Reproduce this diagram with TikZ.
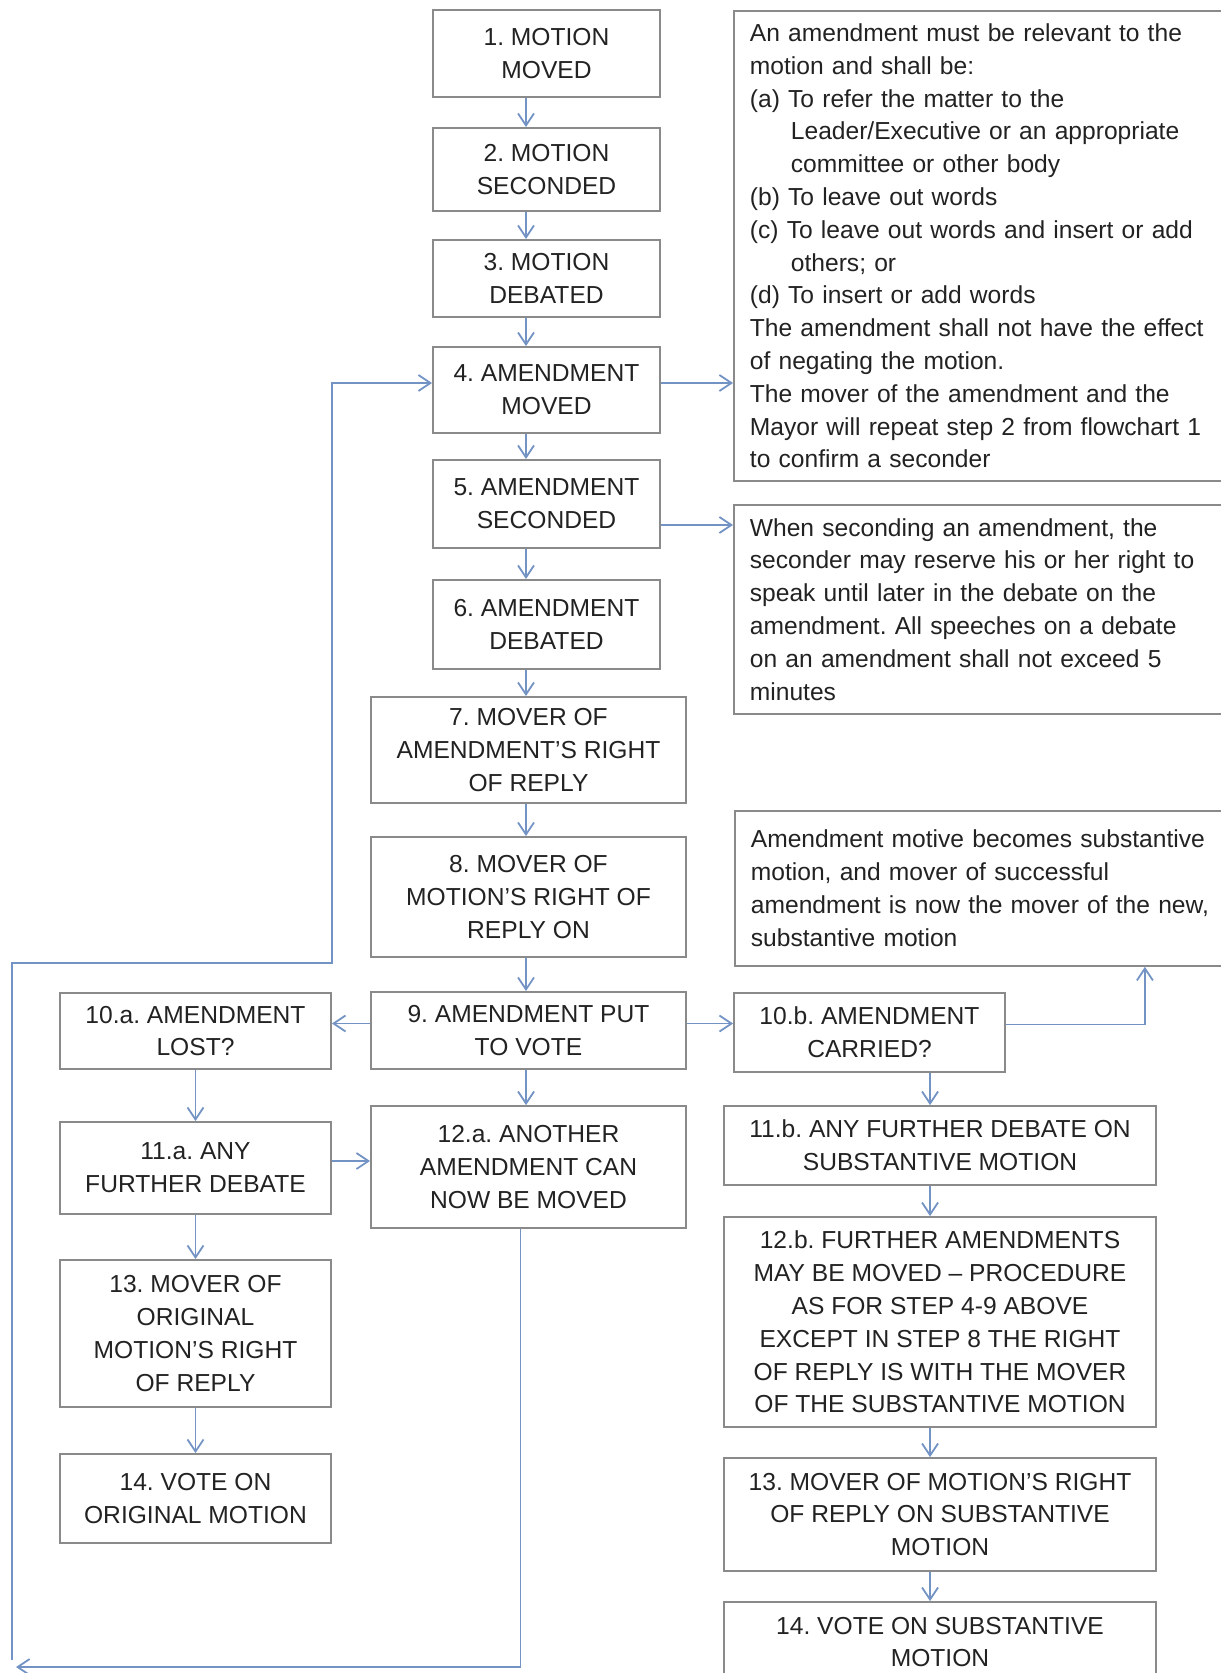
\documentclass[tikz,border=0pt]{standalone}
\usepackage{fontspec}
\setmainfont{Liberation Sans}
\usetikzlibrary{arrows.meta}
\definecolor{boxgray}{HTML}{8A8A8A}
\definecolor{flowblue}{HTML}{7393C4}
\definecolor{inkgray}{HTML}{222222}
\frenchspacing

\begin{document}
\begin{tikzpicture}[x=0.5pt, y=-0.5pt,
    every node/.style={font=\fontsize{12.3pt}{16.4pt}\selectfont, text=inkgray},
    stepbox/.style={draw=boxgray, line width=0.9pt, align=center, inner sep=0pt},
    upbox/.style={stepbox, minimum width=113.5pt},
    widebox/.style={stepbox, minimum width=157.5pt},
    sidebox/.style={stepbox, minimum width=135.5pt},
    rightbox/.style={stepbox, minimum width=216pt},
    notebox/.style={draw=boxgray, line width=0.9pt, align=left, anchor=north west,
        inner xsep=8pt, inner ysep=0pt, text width=232pt},
    flow/.style={draw=flowblue, line width=0.9pt, -{Straight Barb[length=6pt,width=8pt]}}]

    \useasboundingbox (0,0) rectangle (1220,1673);

    % Main steps
    \node[upbox, minimum height=43.5pt] (b1) at (546.5,53.5) {1. MOTION\\MOVED};
    \node[upbox, minimum height=41.5pt] (b2) at (546.5,169.5) {2. MOTION\\SECONDED};
    \node[upbox, minimum height=38.5pt] (b3) at (546.5,278.5) {3. MOTION\\DEBATED};
    \node[upbox, minimum height=43pt] (b4) at (546.5,390) {4. AMENDMENT\\MOVED};
    \node[upbox, minimum height=44pt] (b5) at (546.5,504) {5. AMENDMENT\\SECONDED};
    \node[upbox, minimum height=44.5pt] (b6) at (546.5,624.5) {6. AMENDMENT\\DEBATED};
    \node[widebox, minimum height=53pt] (b7) at (528.5,750) {7. MOVER OF\\AMENDMENT’S RIGHT\\OF REPLY};
    \node[widebox, minimum height=60pt] (b8) at (528.5,897) {8. MOVER OF\\MOTION’S RIGHT OF\\REPLY ON};
    \node[widebox, minimum height=38.5pt] (b9) at (528.5,1030.5) {9. AMENDMENT PUT\\TO VOTE};
    \node[widebox, minimum height=61pt] (b12a) at (528.5,1167) {12.a. ANOTHER\\AMENDMENT CAN\\NOW BE MOVED};

    % Amendment lost
    \node[sidebox, minimum height=38pt] (b10a) at (195.5,1031) {10.a. AMENDMENT\\LOST?};
    \node[sidebox, minimum height=46pt] (b11a) at (195.5,1168) {11.a. ANY\\FURTHER DEBATE};
    \node[sidebox, minimum height=73.5pt] (b13a) at (195.5,1333.5) {13. MOVER OF\\ORIGINAL\\MOTION’S RIGHT\\OF REPLY};
    \node[sidebox, minimum height=44.5pt] (b14a) at (195.5,1498.5) {14. VOTE ON\\ORIGINAL MOTION};

    % Amendment carried
    \node[sidebox, minimum height=39.5pt] (b10b) at (869.5,1032.5) {10.b. AMENDMENT\\CARRIED?};
    \node[rightbox, minimum height=39.5pt] (b11b) at (940,1145.5) {11.b. ANY FURTHER DEBATE ON\\SUBSTANTIVE MOTION};
    \node[rightbox, minimum height=105pt] (b12b) at (940,1322) {12.b. FURTHER AMENDMENTS\\MAY BE MOVED – PROCEDURE\\AS FOR STEP 4-9 ABOVE\\EXCEPT IN STEP 8 THE RIGHT\\OF REPLY IS WITH THE MOVER\\OF THE SUBSTANTIVE MOTION};
    \node[rightbox, minimum height=56.5pt] (b13b) at (940,1514.5) {13. MOVER OF MOTION’S RIGHT\\OF REPLY ON SUBSTANTIVE\\MOTION};
    \node[rightbox, minimum height=40pt] (b14b) at (940,1642) {14. VOTE ON SUBSTANTIVE\\MOTION};

    % Notes
    \node[notebox, minimum height=235pt] (na) at (733,10) {An amendment must be relevant to the\\
        motion and shall be:\\
        (a) To refer the matter to the\\
        \hspace*{20.5pt}Leader/Executive or an appropriate\\
        \hspace*{20.5pt}committee or other body\\
        (b) To leave out words\\
        (c) To leave out words and insert or add\\
        \hspace*{20.5pt}others; or\\
        (d) To insert or add words\\
        The amendment shall not have the effect\\
        of negating the motion.\\
        The mover of the amendment and the\\
        Mayor will repeat step 2 from flowchart 1\\
        to confirm a seconder};
    \node[notebox, minimum height=104.5pt] (nb) at (733,504) {When seconding an amendment, the\\
        seconder may reserve his or her right to\\
        speak until later in the debate on the\\
        amendment. All speeches on a debate\\
        on an amendment shall not exceed 5\\
        minutes};
    \node[notebox, minimum height=77.5pt] (nc) at (734,810) {Amendment motive becomes substantive\\
        motion, and mover of successful\\
        amendment is now the mover of the new,\\
        substantive motion};

    % Draw arrows
    \coordinate (spine) at (526,0);
    \coordinate (rspine) at (930,0);
    \foreach \a/\b in {b1/b2,b2/b3,b3/b4,b4/b5,b5/b6,b6/b7,b7/b8,b8/b9,b9/b12a}
        \draw[flow] (\a.south -| spine) -- (\b.north -| spine);
    \foreach \a/\b in {b10a/b11a,b11a/b13a,b13a/b14a}
        \draw[flow] (\a.south) -- (\b.north);
    \foreach \a/\b in {b10b/b11b,b11b/b12b,b12b/b13b,b13b/b14b}
        \draw[flow] (\a.south -| rspine) -- (\b.north -| rspine);

    \draw[flow] ([yshift=3.5pt]b4.east) -- ([yshift=3.5pt]b4.east -| na.west);
    \draw[flow] ([yshift=-10.5pt]b5.east) -- ([yshift=-10.5pt]b5.east -| nb.west);
    \draw[flow] ([yshift=3.5pt]b9.west) -- ([yshift=3.5pt]b9.west -| b10a.east);
    \draw[flow] ([yshift=3.5pt]b9.east) -- ([yshift=3.5pt]b9.east -| b10b.west);
    \draw[flow] ([yshift=4pt]b10b.east) -| ([xshift=81pt]nc.south);
    \draw[flow] ([yshift=3.5pt]b11a.east) -- ([yshift=3.5pt]b11a.east -| b12a.west);

    % Back to step 4
    \coordinate (lowleft) at (16,1667);
    \coordinate (loopstart) at (12,1660);
    \coordinate (upleft) at (12,963);
    \coordinate (bend) at (332,963);
    \draw[flow] ([xshift=-4pt]b12a.south) |- (lowleft);
    \draw[flow] (loopstart) -- (upleft) -- (bend) |- ([yshift=3.5pt]b4.west);
\end{tikzpicture}
\end{document}
